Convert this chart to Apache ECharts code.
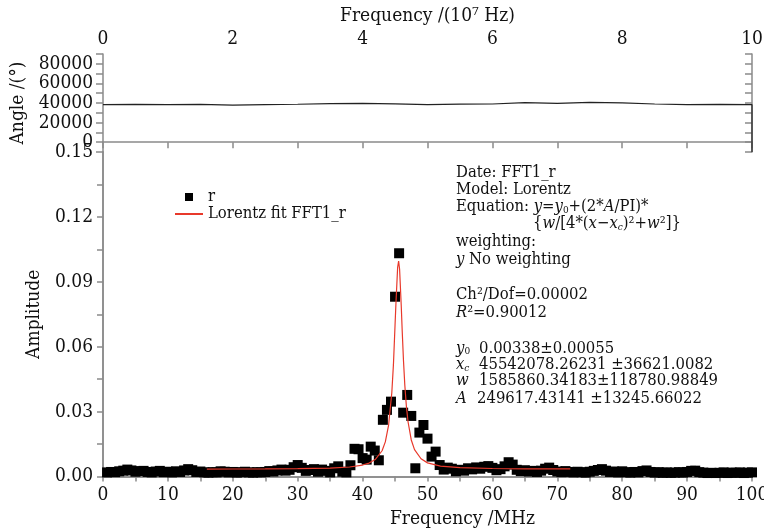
<!DOCTYPE html>
<html>
<head>
<meta charset="utf-8">
<script src="https://cdn.jsdelivr.net/npm/echarts@6/dist/echarts.min.js"></script>
<style>html,body{margin:0;padding:0;background:#fff;}#c{width:764px;height:530px;}</style>
</head>
<body>
<div id="c"></div>
<script>
// ---- data ----
const sampleStepMHz = 0.625;
const amplitude = [
0.0019,0.0021,0.0020,0.0024,0.0027,0.0032,0.0028,0.0022,0.0025,0.0026,
0.0021,0.0019,0.0023,0.0026,0.0020,0.0022,0.0019,0.0024,0.0021,0.0028,
0.0034,0.0029,0.0021,0.0023,0.0019,0.0018,0.0020,0.0019,0.0024,0.0022,
0.0019,0.0021,0.0018,0.0020,0.0022,0.0019,0.0018,0.0020,0.0019,0.0021,
0.0025,0.0023,0.0028,0.0032,0.0027,0.0031,0.0043,0.0053,0.0040,0.0026,
0.0030,0.0034,0.0022,0.0032,0.0026,0.0019,0.0038,0.0047,0.0022,0.0019,
0.0052,0.0128,0.0126,0.0085,0.0078,0.0138,0.0120,0.0075,0.0262,0.0308,
0.0346,0.0831,0.1032,0.0295,0.0377,0.0280,0.0038,0.0203,0.0238,0.0175,
0.0092,0.0115,0.0053,0.0032,0.0041,0.0036,0.0024,0.0031,0.0027,0.0038,
0.0033,0.0042,0.0036,0.0045,0.0048,0.0040,0.0029,0.0034,0.0047,0.0066,
0.0055,0.0031,0.0025,0.0029,0.0023,0.0026,0.0021,0.0027,0.0036,0.0041,
0.0030,0.0023,0.0020,0.0025,0.0021,0.0019,0.0022,0.0020,0.0018,0.0022,
0.0026,0.0030,0.0034,0.0027,0.0021,0.0023,0.0019,0.0024,0.0020,0.0018,
0.0021,0.0019,0.0025,0.0028,0.0021,0.0018,0.0020,0.0017,0.0019,0.0017,
0.0018,0.0020,0.0018,0.0021,0.0026,0.0027,0.0020,0.0018,0.0016,0.0017,
0.0016,0.0017,0.0019,0.0016,0.0018,0.0017,0.0019,0.0016,0.0018,0.0019
];
const fitFreq = [16,20,25,30,35,38,40,41,42,43,43.5,44,44.5,44.75,45,45.15,45.4,45.55,45.7,45.95,46.1,46.3,46.5,46.75,47,47.5,48,49,50,52,55,60,65,72];
const fitAmp  = [0.00345,0.00347,0.0035,0.0036,0.0039,0.0044,0.0053,0.0062,0.0080,0.0119,0.0160,0.0236,0.0387,0.0517,0.0700,0.0809,0.0967,0.0996,0.0958,0.0793,0.0675,0.0535,0.0424,0.0323,0.0253,0.0169,0.0124,0.0082,0.0063,0.0048,0.0041,0.0037,0.0035,0.0035];
const angleFreq = [0,0.5,1,1.5,2,2.5,3,3.5,4,4.5,5,5.5,6,6.5,7,7.5,8,8.5,9,9.5,10,10];
const angleVal  = [38400,38600,38300,38500,37800,38300,38700,39300,39700,39200,38400,38900,39000,40300,39700,40600,40100,39000,38400,38500,38300,-10000];
const topTickLabels = [0,2,4,6,8,10];
const angleTickLabels = [0,20000,40000,60000,80000];
const ampTickLabels = [0,0.03,0.06,0.09,0.12,0.15];
const bottomTickLabels = [0,10,20,30,40,50,60,70,80,90,100];
const seriesNames = ['r','Lorentz fit FFT1_r'];

// ---- chart ----
const F = '"DejaVu Serif Condensed","DejaVu Serif",serif';
const AX = '#8a8a8a';
const scatterData = amplitude.map((v, i) => [(i + 1) * sampleStepMHz, v]);
const fitData = fitFreq.map((f, i) => [f, fitAmp[i]]);
const angleData = angleFreq.map((f, i) => [f, angleVal[i]]);
const near = (arr, v, eps) => arr.some(a => Math.abs(a - v) < eps);

const lineAx = {show: true, lineStyle: {color: AX, width: 1.5}};
const lab = {color: '#111', fontSize: 19, fontFamily: F};
const ylab = {color: '#111', fontSize: 19, fontFamily: F, padding: [4, 0, 0, 0]};
const nameStyle = {color: '#111', fontSize: 19, fontFamily: F};

const chart = echarts.init(document.getElementById('c'), null, {renderer: 'canvas'});
const rich = {
  i: {font: 'italic 16.5px ' + F, lineHeight: 17},
  s: {font: '10px ' + F, lineHeight: 7, verticalAlign: 'bottom'},
  si: {font: 'italic 10px ' + F, lineHeight: 7, verticalAlign: 'bottom'}
};
function txt(x, y, t) {
  return {type: 'text', x: x, y: y, z: 100,
    style: {text: t, font: '16.5px ' + F, lineHeight: 17, fill: '#111', align: 'left', verticalAlign: 'middle', rich: rich}};
}
const X0 = 456, XV = 479;
const graphics = [
  txt(X0, 172.7, 'Date: FFT1_r'),
  txt(X0, 189.3, 'Model: Lorentz'),
  txt(X0, 206.7, 'Equation: {i|y}={i|y}{s|0}+(2*{i|A}/PI)*'),
  txt(533, 224, '{{i|w}/[4*({i|x}\u2212{i|x}{si|c})\u00b2+{i|w}\u00b2]}'),
  txt(X0, 241.7, 'weighting:'),
  txt(X0, 259.3, '{i|y} No weighting'),
  txt(X0, 295, 'Ch\u00b2/Dof=0.00002'),
  txt(X0, 312.7, '{i|R}\u00b2=0.90012'),
  txt(X0, 348.3, '{i|y}{s|0}'),
  txt(XV, 348.3, '0.00338\u00b10.00055'),
  txt(X0, 365, '{i|x}{si|c}'),
  txt(XV, 365, '45542078.26231 \u00b136621.0082'),
  txt(X0, 381, '{i|w}'),
  txt(XV, 381, '1585860.34183\u00b1118780.98849'),
  txt(X0, 398.3, '{i|A}'),
  txt(XV - 2, 398.3, '249617.43141 \u00b113245.66022')
];

const option = {
  backgroundColor: '#ffffff',
  animation: false,
  textStyle: {fontFamily: F},
  grid: [
    {left: 103, right: 12, top: 54, height: 98, containLabel: false, outerBoundsMode: 'none'},
    {left: 103, right: 12, top: 152, bottom: 53.5, containLabel: false, outerBoundsMode: 'none'}
  ],
  legend: {
    left: 169, top: 183.5, orient: 'vertical', itemGap: 0,
    itemWidth: 28, itemHeight: 14,
    textStyle: {color: '#111', fontSize: 16.5, fontFamily: F, lineHeight: 15},
    data: [
      {name: seriesNames[0], icon: 'path://M0,0M28,14M10,3h8v8h-8z'},
      {name: seriesNames[1], itemStyle: {opacity: 0}}
    ]
  },
  xAxis: [
    {gridIndex: 0, type: 'value', position: 'top', min: 0, max: 10, interval: 1,
     name: 'Frequency /(10\u2077 Hz)', nameLocation: 'middle', nameGap: 28, nameTextStyle: nameStyle,
     axisLine: lineAx, splitLine: {show: false},
     axisTick: {show: true, inside: true, length: 6, lineStyle: {color: AX, width: 1.5}},
     axisLabel: Object.assign({margin: 5, formatter: v => near(topTickLabels, v, 1e-6) ? String(v) : ''}, lab)},
    {gridIndex: 1, type: 'value', position: 'bottom', min: 0, max: 100, interval: 5,
     name: 'Frequency /MHz', nameLocation: 'middle', nameGap: 33,
     nameTextStyle: Object.assign({padding: [0, 0, 0, 70]}, nameStyle),
     axisLine: lineAx, splitLine: {show: false},
     axisTick: {show: true, inside: false, length: 5, lineStyle: {color: AX, width: 1.5}},
     axisLabel: Object.assign({margin: 9, formatter: v => near(bottomTickLabels, v, 1e-6) ? String(v) : ''}, lab)},
    {gridIndex: 1, type: 'value', position: 'top', min: 0, max: 100, interval: 5,
     axisLine: lineAx, splitLine: {show: false}, axisLabel: {show: false},
     axisTick: {show: true, inside: true, length: 5, lineStyle: {color: AX, width: 1.5}}}
  ],
  yAxis: [
    {gridIndex: 0, type: 'value', position: 'left', min: -10000, max: 90000, interval: 10000,
     name: 'Angle /(\u00b0)', nameLocation: 'middle', nameGap: 72, nameTextStyle: nameStyle,
     axisLine: lineAx, splitLine: {show: false},
     axisTick: {show: true, inside: false, length: 7, lineStyle: {color: AX, width: 1.5}},
     axisLabel: Object.assign({margin: 10, formatter: v => near(angleTickLabels, v, 1) ? String(v) : ''}, ylab)},
    {gridIndex: 0, type: 'value', position: 'right', min: -10000, max: 90000, interval: 10000,
     axisLine: lineAx, splitLine: {show: false}, axisLabel: {show: false},
     axisTick: {show: true, inside: true, length: 7, lineStyle: {color: AX, width: 1.5}}},
    {gridIndex: 1, type: 'value', position: 'left', min: 0, max: 0.15, interval: 0.015,
     name: 'Amplitude', nameLocation: 'middle', nameGap: 58, nameTextStyle: nameStyle,
     axisLine: lineAx, splitLine: {show: false},
     axisTick: {show: true, inside: false, length: 6, lineStyle: {color: AX, width: 1.5}},
     axisLabel: Object.assign({margin: 10, formatter: v => near(ampTickLabels, v, 1e-6) ? v.toFixed(2) : ''}, ylab)},
    {gridIndex: 1, type: 'value', position: 'right', min: 0, max: 0.15, interval: 0.015,
     axisLine: lineAx, splitLine: {show: false}, axisLabel: {show: false},
     axisTick: {show: true, inside: true, length: 6, lineStyle: {color: AX, width: 1.5}}}
  ],
  series: [
    {name: 'angle', type: 'line', xAxisIndex: 0, yAxisIndex: 0, data: angleData,
     symbol: 'none', lineStyle: {color: '#222', width: 1.2}, clip: true},
    {name: seriesNames[0], type: 'scatter', xAxisIndex: 1, yAxisIndex: 2, data: scatterData,
     symbol: 'rect', symbolSize: 10, itemStyle: {color: '#000', opacity: 1}, clip: false, z: 3},
    {name: seriesNames[1], type: 'line', xAxisIndex: 1, yAxisIndex: 2, data: fitData,
     symbol: 'none', lineStyle: {color: '#e8392b', width: 1.2}, itemStyle: {color: '#e8392b'}, z: 4}
  ],
  graphic: graphics
};
chart.setOption(option);
</script>
</body>
</html>
